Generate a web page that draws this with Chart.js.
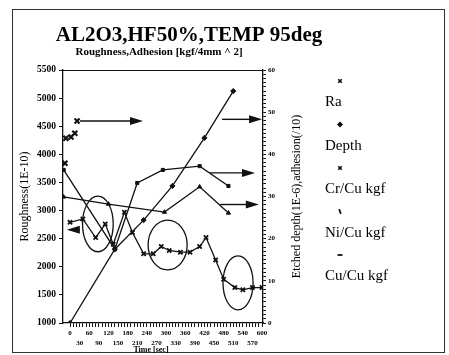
<!DOCTYPE html>
<html>
<head>
<meta charset="utf-8">
<script src="https://cdn.jsdelivr.net/npm/chart.js@4.4.1/dist/chart.umd.min.js"></script>
<style>
html, body { margin: 0; padding: 0; background: #fff; }
</style>
</head>
<body>
<canvas id="chart" width="449" height="355"></canvas>
<script>
// --- values ---
const raTime = [0, 40, 80, 110, 135, 170, 195, 230, 260, 285, 310, 345, 375, 405, 425, 455, 480, 515, 540, 570, 600];
const raValues = [2790, 2850, 2520, 2760, 2400, 2970, 2610, 2230, 2230, 2360, 2290, 2260, 2260, 2360, 2520, 2120, 1780, 1630, 1590, 1630, 1630];

const depthTime = [0, 140, 230, 320, 420, 510];
const depthValues = [0, 17.5, 24.4, 32.5, 43.9, 55.0];

const crTime = [-16, -13, 3, 15, 22];
const crValues = [37.9, 43.8, 44.1, 45.0, 47.9];

const niTime = [-20, 120, 295, 405, 495];
const niValues = [29.9, 28.2, 26.3, 32.3, 26.1];

const cuTime = [-20, 140, 210, 290, 405, 495];
const cuValues = [36.3, 17.5, 33.2, 36.3, 37.2, 32.5];

// tick labels
const timeLabels = [0, 30, 60, 90, 120, 150, 180, 210, 240, 270, 300, 330, 360, 390, 420, 450, 480, 510, 540, 570, 600];
const roughLabels = [1000, 1500, 2000, 2500, 3000, 3500, 4000, 4500, 5000, 5500];
const depthLabels = [0, 10, 20, 30, 40, 50, 60];

// hand drawn marks on the figure (time, right axis value)
const arrows = [
    { from: [31, 47.9], to: [228, 47.9] },
    { from: [475, 48.3], to: [600, 48.3] },
    { from: [437, 35.6], to: [578, 35.6] },
    { from: [469, 28.1], to: [590, 28.1] },
    { from: [31, 22.1], to: [-10, 22.1] }
];
const circles = [
    { c: [87, 23.5], rx: 48, ry: 6.6 },
    { c: [305, 18.5], rx: 61, ry: 5.9 },
    { c: [525, 9.5], rx: 47, ry: 6.4 }
];

const SERIF = '"Liberation Serif", "Times New Roman", serif';
const INK = '#111';

const pts = (ts, vs) => ts.map((t, i) => ({ x: t, y: vs[i] }));

// minor ticks between the labelled ones
const timeTicks = [];
timeLabels.forEach((v, i) => {
    timeTicks.push(v);
    if (i < timeLabels.length - 1) timeTicks.push(v + 10, v + 20);
});
const depthTicks = [];
depthLabels.forEach((v, i) => {
    depthTicks.push(v);
    if (i < depthLabels.length - 1) for (let k = 1; k < 10; k++) depthTicks.push(v + k);
});

// legend glyphs (drawn above each label)
const legendGlyph = [
    { pointStyle: 'crossRot', radius: 2.5, borderWidth: 1.6 },
    { pointStyle: 'rectRot', radius: 2.6, borderWidth: 1 },
    { pointStyle: 'crossRot', radius: 2.5, borderWidth: 1.6 },
    { pointStyle: 'line', radius: 2.5, borderWidth: 1.8, rotation: 70 },
    { pointStyle: 'line', radius: 2.5, borderWidth: 1.8, rotation: 0 }
];

const decor = {
    id: 'decor',
    beforeDraw(chart) {
        const ctx = chart.ctx;
        ctx.save();
        ctx.fillStyle = '#fff';
        ctx.fillRect(0, 0, chart.width, chart.height);
        ctx.strokeStyle = '#333';
        ctx.lineWidth = 1;
        ctx.strokeRect(12.5, 9.5, 432, 343);
        ctx.restore();
    },
    afterDatasetsDraw(chart) {
        const ctx = chart.ctx;
        const sx = chart.scales.x, sy = chart.scales.y2;
        ctx.save();
        ctx.strokeStyle = INK;
        ctx.fillStyle = INK;
        ctx.lineWidth = 1.4;
        arrows.forEach(a => {
            const x1 = sx.getPixelForValue(a.from[0]), y1 = sy.getPixelForValue(a.from[1]);
            const x2 = sx.getPixelForValue(a.to[0]), y2 = sy.getPixelForValue(a.to[1]);
            const dir = Math.sign(x2 - x1);
            ctx.beginPath();
            ctx.moveTo(x1, y1);
            ctx.lineTo(x2 - dir * 10, y2);
            ctx.stroke();
            ctx.beginPath();
            ctx.moveTo(x2, y2);
            ctx.lineTo(x2 - dir * 13, y2 - 4);
            ctx.lineTo(x2 - dir * 13, y2 + 4);
            ctx.closePath();
            ctx.fill();
        });
        ctx.lineWidth = 1.3;
        circles.forEach(e => {
            const cx = sx.getPixelForValue(e.c[0]), cy = sy.getPixelForValue(e.c[1]);
            const rx = Math.abs(sx.getPixelForValue(e.c[0] + e.rx) - cx);
            const ry = Math.abs(sy.getPixelForValue(e.c[1] + e.ry) - cy);
            ctx.beginPath();
            ctx.ellipse(cx, cy, rx, ry, 0, 0, Math.PI * 2);
            ctx.stroke();
        });
        ctx.restore();
    },
    afterDraw(chart) {
        const ctx = chart.ctx;
        const a = chart.chartArea;
        ctx.save();
        ctx.strokeStyle = INK;
        ctx.lineWidth = 1.2;
        ctx.beginPath();
        ctx.moveTo(a.left, a.top + 0.5);
        ctx.lineTo(a.right, a.top + 0.5);
        ctx.stroke();

        ctx.fillStyle = '#000';
        ctx.textAlign = 'center';
        ctx.textBaseline = 'alphabetic';
        ctx.font = 'bold 21px ' + SERIF;
        ctx.fillText('AL2O3,HF50%,TEMP 95deg', 189, 41);
        ctx.font = 'bold 11px ' + SERIF;
        ctx.fillText('Roughness,Adhesion [kgf/4mm ^ 2]', 159, 55);
        ctx.font = 'bold 8px ' + SERIF;
        ctx.fillText('Time [sec]', 151, 352);

        // axis titles, read bottom to top
        ctx.font = '12px ' + SERIF;
        ctx.save();
        ctx.translate(28, (a.top + a.bottom) / 2);
        ctx.rotate(-Math.PI / 2);
        ctx.fillText('Roughness(1E-10)', 0, 0);
        ctx.restore();
        ctx.save();
        ctx.translate(300, (a.top + a.bottom) / 2);
        ctx.rotate(-Math.PI / 2);
        ctx.fillText('Etched depth(1E-6),adhesion(/10)', 0, 0);
        ctx.restore();

        // legend
        ctx.textAlign = 'left';
        ctx.font = '15px ' + SERIF;
        chart.data.datasets.forEach((ds, i) => {
            const base = 106 + i * 43.5;
            ctx.fillStyle = '#000';
            ctx.fillText(ds.label, 325, base);
            const g = legendGlyph[i];
            ctx.strokeStyle = INK;
            ctx.fillStyle = INK;
            ctx.lineWidth = g.borderWidth;
            Chart.helpers.drawPoint(ctx, g, 340, base - 25);
        });
        ctx.restore();
    }
};

const lineStyle = { borderColor: INK, backgroundColor: INK, borderWidth: 1.3, tension: 0, pointBorderColor: INK, pointBackgroundColor: INK };

new Chart(document.getElementById('chart'), {
    type: 'line',
    data: {
        datasets: [
            { label: 'Ra', data: pts(raTime, raValues), yAxisID: 'y', ...lineStyle, pointStyle: 'crossRot', pointRadius: 3, pointBorderWidth: 1.8 },
            { label: 'Depth', data: pts(depthTime, depthValues), yAxisID: 'y2', ...lineStyle, pointStyle: 'rectRot', pointRadius: 2.6, pointBorderWidth: 1 },
            { label: 'Cr/Cu kgf', data: pts(crTime, crValues), yAxisID: 'y2', ...lineStyle, showLine: false, pointStyle: 'crossRot', pointRadius: 3.5, pointBorderWidth: 2.2 },
            { label: 'Ni/Cu kgf', data: pts(niTime, niValues), yAxisID: 'y2', ...lineStyle, pointStyle: 'triangle', pointRadius: 2.4, pointBorderWidth: 1 },
            { label: 'Cu/Cu kgf', data: pts(cuTime, cuValues), yAxisID: 'y2', ...lineStyle, pointStyle: 'rect', pointRadius: 2.2, pointBorderWidth: 1 }
        ]
    },
    options: {
        responsive: false,
        animation: false,
        layout: { padding: { top: 70, left: 0, right: 0, bottom: 0 } },
        plugins: { legend: { display: false }, tooltip: { enabled: false } },
        scales: {
            x: {
                type: 'linear', min: -22, max: 603,
                afterBuildTicks: s => { s.ticks = timeTicks.map(v => ({ value: v })); },
                afterFit: s => { s.height = 32; },
                ticks: {
                    autoSkip: false, maxRotation: 0, minRotation: 0, padding: 1, color: '#000',
                    font: { family: SERIF, size: 7, weight: 'bold', lineHeight: 1.45 },
                    callback: v => {
                        const k = timeLabels.indexOf(v);
                        if (k < 0) return '';
                        return k % 2 ? ['', String(v)] : String(v);
                    }
                },
                grid: { drawOnChartArea: false, tickLength: 4, color: INK },
                border: { color: INK, width: 1.3 }
            },
            y: {
                position: 'left', min: 1000, max: 5500,
                afterBuildTicks: s => { s.ticks = roughLabels.map(v => ({ value: v })); },
                afterFit: s => { s.width = 63; },
                ticks: {
                    padding: 3, color: '#000',
                    font: { family: SERIF, size: 9.5, weight: 'bold' },
                    callback: v => String(v)
                },
                grid: { drawOnChartArea: false, tickLength: 4, color: INK },
                border: { color: INK, width: 1.3 }
            },
            y2: {
                position: 'right', min: 0, max: 60,
                afterBuildTicks: s => { s.ticks = depthTicks.map(v => ({ value: v })); },
                afterFit: s => { s.width = 186; },
                ticks: {
                    autoSkip: false, padding: 2, color: '#000',
                    font: { family: SERIF, size: 7, weight: 'bold' },
                    callback: v => depthLabels.includes(v) ? String(v) : ''
                },
                grid: { drawOnChartArea: false, tickLength: 3, color: INK },
                border: { color: INK, width: 1.3 }
            }
        }
    },
    plugins: [decor]
});
</script>
</body>
</html>
